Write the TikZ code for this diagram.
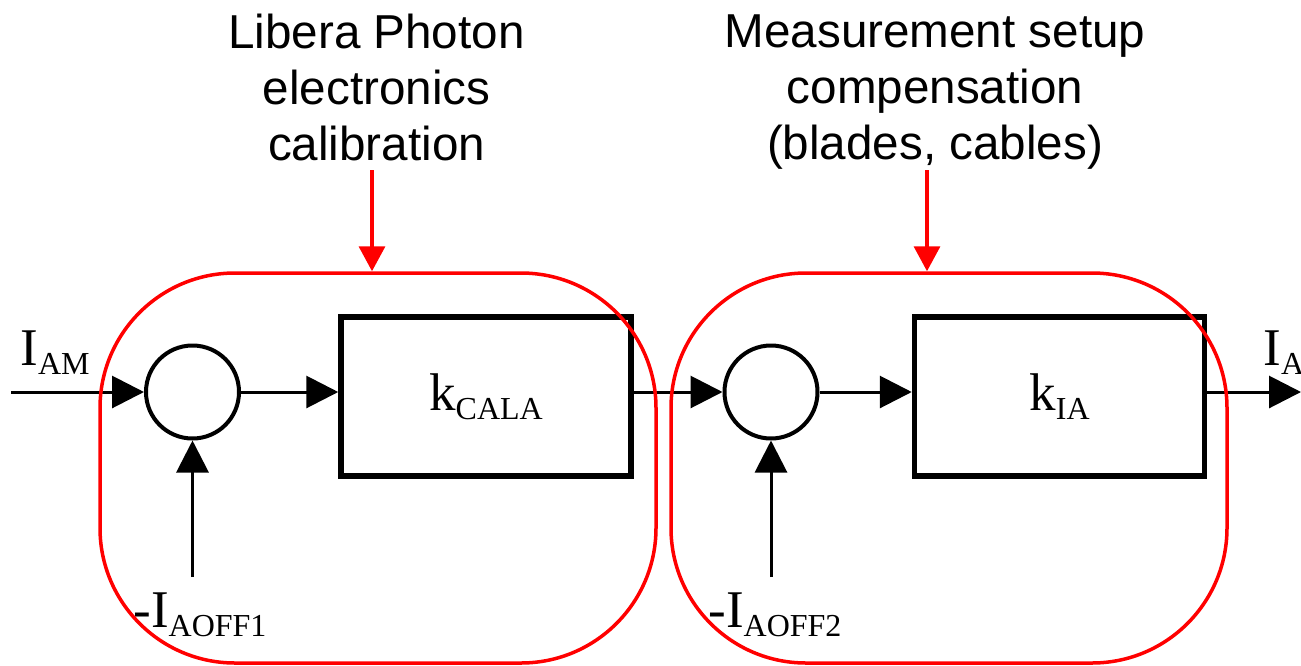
\documentclass[tikz,border=0pt]{standalone}
\usepackage{fontspec}
\setmainfont{Liberation Serif}
\newfontfamily\arialf{Liberation Sans}
\usetikzlibrary{arrows.meta}
\newcommand\bigf{\fontsize{26.5}{30}\selectfont}
\newcommand\smallf{\fontsize{16}{18}\selectfont}
\newcommand\sigl[2]{{\bigf #1}{\smallf\raisebox{-4.5pt}{#2}}}
\begin{document}
\begin{tikzpicture}[x=0.5pt,y=-0.5pt,
  sig/.style={line width=1.5pt,-{Triangle[length=16pt,width=16pt]}},
  sumnode/.style={circle,draw,line width=2pt,minimum size=46.5pt,inner sep=0pt},
  gain/.style={rectangle,draw,line width=2.75pt,minimum width=145pt,minimum height=79.5pt,inner sep=0pt},
  group/.style={rectangle,draw=red,line width=1.75pt,rounded corners=67.5pt,minimum width=278pt,minimum height=195pt,inner sep=0pt},
  note/.style={font=\arialf\fontsize{23.8}{28}\selectfont,align=center,inner sep=0pt,anchor=north},
  lbl/.style={inner sep=0pt,anchor=base west},
  pointer/.style={draw=red,line width=1.75pt,-{Triangle[length=12.5pt,width=13pt]}}]
\useasboundingbox (0,0) rectangle (1301,665);

% summing junctions and gain blocks
\node[sumnode] (c1) at (192.5,392) {};
\node[sumnode] (c2) at (771,392) {};
\node[gain] (b1) at (486,396.5) {\sigl{k}{CALA}};
\node[gain] (b2) at (1059.5,396.5) {\sigl{k}{IA}};

% free ends
\coordinate (in) at (11,392);
\coordinate (out) at (1301,392);
\coordinate (v1) at (192.5,577);
\coordinate (v2) at (771,577);

% signal connectors
\draw[sig] (in) -- (c1.west);
\draw[sig] (c1.east) -- (c1 -| b1.west);
\draw[sig] (c1 -| b1.east) -- (c2.west);
\draw[sig] (c2.east) -- (c2 -| b2.west);
\draw[sig] (c2 -| b2.east) -- (out);
\draw[sig] (v1) -- (c1.south);
\draw[sig] (v2) -- (c2.south);

% signal labels
\node[lbl] (lin) at (20,365) {\sigl{I}{AM}};
\node[lbl] (lout) at (1263,365) {\sigl{I}{A}};
\node[lbl] (loff1) at (133,627) {\sigl{-I}{AOFF1}};
\node[lbl] (loff2) at (708,627) {\sigl{-I}{AOFF2}};

% group frames
\node[group] (gA) at (378,468) {};
\node[group] (gB) at (949,468) {};

% annotations
\node[note] (nA) at (376.5,14) {Libera Photon\\electronics\\calibration};
\node[note] (nB) at (935,14) {Measurement setup\\compensation\\(blades, cables)};
\coordinate (pA) at (372,170);
\coordinate (pB) at (927,170);
\draw[pointer] (pA) -- (pA |- gA.north);
\draw[pointer] (pB) -- (pB |- gB.north);
\end{tikzpicture}
\end{document}
